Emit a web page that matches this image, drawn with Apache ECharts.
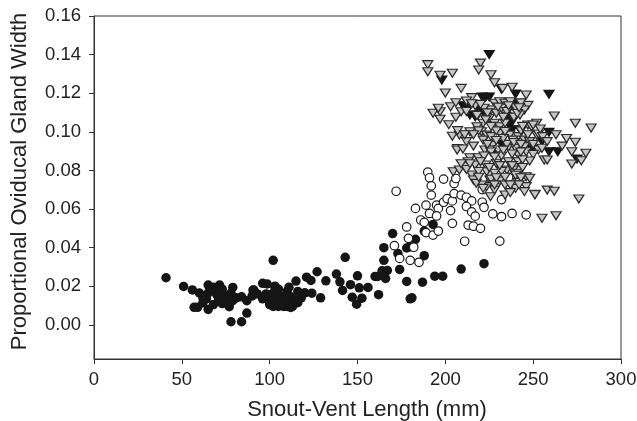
<!DOCTYPE html>
<html>
<head>
<meta charset="utf-8">
<style>html,body{margin:0;padding:0;background:#fff}#kk{width:637px;height:421px}</style>
<script src="https://cdn.jsdelivr.net/npm/echarts@6/dist/echarts.min.js"></script>
</head>
<body>
<div id="kk"></div>
<script>
var yTicks = [0, 0.02, 0.04, 0.06, 0.08, 0.10, 0.12, 0.14, 0.16];
var xTitle = "Snout-Vent Length (mm)";
var yTitle = "Proportional Oviducal Gland Width";

var solidCircles = [
[41,.0244],[51,.0199],[56,.0181],[57,.0091],[59,.0091],[65,.008],[78,.0016],[84,.0016],[87,.0061],[77,.0094],
[65,.0206],[68,.0195],[71.5,.0206],[73,.0185],[79,.0194],[90.5,.018],[96,.0215],[98.5,.0212],[103,.0197],
[60,.0165],[62,.014],[62,.0115],[65,.0165],[64,.0135],[68,.0175],[68,.0105],[70,.0155],[71,.0135],[72,.018],[73,.011],
[74,.0155],[76,.0135],[78,.0165],[79,.0125],[81,.014],[84,.0145],[87,.0125],[90,.015],[91,.018],[93,.016],[96,.0135],[99,.0145],
[100,.0105],[102,.0095],[104,.0115],[105,.0095],[107,.012],[108,.0095],[110,.0095],[111,.012],[112,.009],[113,.0095],
[103,.0135],[106,.015],[109,.0145],[112,.0145],[114,.013],[116,.0115],[118,.014],[102,.0165],[105,.0185],[103,.02],
[110,.0175],[111,.0195],[108,.0135],[98,.016],[116,.0173],[120,.0166],[124,.0164],
[102,.0334],[143,.035],[127,.0275],[121,.0247],[123.5,.023],[115,.0227],[132,.0228],[138,.0263],[150,.0254],[140,.0223],
[146,.0208],[151,.0192],[156,.0194],[141.5,.0178],[129,.014],[147,.0143],[152.5,.0138],[149.5,.0107],[162,.0156],
[160,.0251],[161.5,.0251],[164,.028],[167,.0282],[166,.024],[165,.0334],[165,.04],[170,.0473],[174,.0287],[173,.0369],
[178,.0225],[187,.0221],[188,.0358],[194,.0252],[198.5,.0252],[209,.0289],[222,.0317],[180,.0135],[181,.014],
[178,.0398],[180,.0405],[183,.0443],[193,.052],[188,.0486]
];

var openCircles = [
[172,.0692],[190,.0791],[191,.0762],[192,.072],[192,.0672],[199,.0755],[205,.0732],[206,.0758],[183,.0603],[189,.062],
[195,.062],[196,.0603],[191,.0577],[195,.0564],[199,.0635],[201,.0654],[204,.0642],[205,.068],[209,.0672],[212,.0661],
[215,.0642],[212,.0613],[203,.0592],[215,.0585],[217,.0563],[221,.0635],[222,.0609],[227,.0575],[232,.0561],[238,.0577],
[246,.057],[232,.0649],[204,.0526],[213,.0517],[216,.0511],[220,.05],[211,.0433],[231,.0434],[178,.0507],[186,.0543],
[188,.0531],[189,.0478],[193,.0465],[196,.0486],[179,.0448],[171,.041],[182,.0402],[174,.0344],[180,.0334],[185,.0324],
[236,.0764],[221,.0701],[226,.0745]
];

var blackTriangles = [
[225,.14],[198,.1268],[232,.122],[240,.1196],[259,.1194],[223,.1179],[221,.118],[225,.118],[210,.1135],[214,.1087],
[217,.1078],[218.5,.1087],[222.5,.1113],[236,.1113],[240,.1148],[238,.1052],[235,.1078],[242.5,.101],[232,.0935],[240.5,.0914],
[249,.0923],[227,.0889],[259,.0997],[255,.0949],[249.5,.0909],[259,.0897],[264,.0897],[275,.0859],[213,.1122],[218,.1127],
[221.5,.1104],[236.7,.1035],[238,.101]
];

var grayTriangles = [
[190,.1348],[190,.1311],[197,.1293],[204,.1303],[220,.1356],[219,.132],[226,.1296],[228,.1254],[238,.1231],[246,.1191],
[209,.1225],[200,.1201],[215,.1177],[247,.1137],[193,.1096],[197,.1104],[197,.1065],[196,.1122],[203,.113],[202,.1037],
[206,.1075],[204,.0977],[208,.0983],[207,.1006],[209,.1104],[206,.1151],[212,.116],[212,.0949],[216,.0926],[207,.0914],
[232.6,.1225],[245,.1113],[242.5,.1087],[228,.1148],[231,.1156],[234,.1148],[237,.1156],[226,.1113],[229,.1096],[232,.1122],
[225,.107],[221.5,.1044],[218,.1026],[228,.1044],[231,.1026],[234,.1044],[247,.1035],[252,.1044],[249,.1026],[220.6,.1],
[223.5,.0983],[226,.0975],[231,.0992],[236.7,.0983],[241.5,.0975],[238.5,.0957],[245,.0957],[248,.0949],[252,.0983],[221.5,.0957],
[227,.0931],[236,.0923],[245,.0923],[222.5,.0906],[225.4,.0906],[230,.0906],[253,.0906],[206.7,.0906],[210,.0911],[246,.0897],
[250,.0883],[241.5,.088],[214,.0866],[218.7,.0866],[213,.0845],[217,.0828],[211,.0819],[204.5,.0793],[208,.0802],[223,.0828],
[229,.0837],[236,.0845],[241.5,.0845],[248,.0849],[223.5,.0793],[228,.0785],[235,.0802],[238.6,.0802],[241.5,.0785],[215,.0776],
[216,.075],[225.4,.075],[231,.0745],[246,.0767],[248,.0759],[241.5,.0738],[246,.0716],[238.6,.0707],[234,.0724],[228,.0698],
[223.5,.0716],[220.6,.0724],[221.5,.0707],[225.7,.0664],[234,.0673],[245,.069],[251,.0676],[240,.0707],[217.6,.0733],
[262,.1082],[274,.1044],[283,.102],[269,.0965],[274,.0946],[266.5,.0926],[263,.0985],[253,.0989],[255.4,.0975],[258,.0949],
[250,.1035],[272,.0897],[280,.0889],[277.4,.085],[272,.0833],[256.3,.0854],[258,.0854],[251,.0674],[258,.0698],[262,.0692],
[276,.0652],[255,.0552],[263,.0565],
[218,.1085],[222,.1122],[217,.1135],[235,.1105],[240,.1125],[243,.115],[239,.1075],[233,.1075],[212,.1105],[214,.1],
[211,.0985],[235,.0935],[240,.0915],[233,.0965],[229,.1005],[243,.1005],[226,.0895],[232,.0875],[222,.0875],[240,.0775],
[232,.0795],[226,.0755],[237,.0725],[244,.0855],[219,.0795],
[215,.1145],[220,.1142],[224,.1098],[230,.1128],[236,.1135],[241,.1095],[244,.1028],[226,.1028],[223,.1062],[219,.1005],
[234,.1002],[239,.0945],[243,.0935],[229,.0955],[224,.0935],[233,.0905],[238,.0885],[243,.0895],[228,.087],[220,.0845],
[225,.0815],[231,.0825],[238,.0825],[244,.0815],[212,.0805],[219,.0765],[229,.0762],[234,.0765],[243,.0762],[228,.0725],
[237,.0685],[242,.0725],[214,.0835],[209,.0835],[250,.0935],[255,.0915],[247,.0985],[254,.1015],[242,.1125],[216,.0985]
];

var mychart = echarts.init(document.getElementById("kk"));
var font = "Liberation Sans";
var triangle = "path://M0,0L10,0L5,8Z";

var option = {
    animation: false,
    backgroundColor: "#fff",
    grid: { left: 94, right: 16, top: 16, bottom: 62, outerBoundsMode: "none", show: true, borderColor: "#333", borderWidth: 1 },
    xAxis: {
        type: "value", min: 0, max: 300, interval: 50,
        name: xTitle, nameLocation: "middle", nameGap: 40,
        nameTextStyle: { fontFamily: font, fontSize: 22, color: "#222", padding: [0, 0, 0, 19] },
        splitLine: { show: false },
        axisLine: { onZero: false, lineStyle: { color: "#333" } },
        axisTick: { length: 5, lineStyle: { color: "#333" } },
        axisLabel: { fontFamily: font, fontSize: 18.5, color: "#222", margin: 11, hideOverlap: false }
    },
    yAxis: {
        type: "value", min: -0.0177, max: 0.16,
        name: yTitle, nameLocation: "middle", nameGap: 63,
        nameTextStyle: { fontFamily: font, fontSize: 22, color: "#222", padding: [0, 0, 0, 12] },
        splitLine: { show: false },
        axisLine: { onZero: false, lineStyle: { color: "#333" } },
        axisTick: { show: true, length: 5, customValues: yTicks, lineStyle: { color: "#333" } },
        axisLabel: {
            customValues: yTicks, fontFamily: font, fontSize: 18.5, color: "#222", margin: 13,
            formatter: function (v) { return v.toFixed(2); }
        }
    },
    series: [
        { type: "scatter", data: solidCircles, symbol: "circle", symbolSize: 9.5, silent: true,
          itemStyle: { color: "#151515", opacity: 1 } },
        { type: "scatter", data: openCircles, symbol: "circle", symbolSize: 8.5, silent: true,
          itemStyle: { color: "#fff", borderColor: "#1a1a1a", borderWidth: 1.2, opacity: 1 } },
        { type: "scatter", data: blackTriangles, symbol: triangle, symbolSize: [10, 8], silent: true,
          itemStyle: { color: "#151515", borderColor: "#151515", borderWidth: 1.2, opacity: 1 } },
        { type: "scatter", data: grayTriangles, symbol: triangle, symbolSize: [10, 8], silent: true,
          itemStyle: { color: "#c6c6c6", borderColor: "#2a2a2a", borderWidth: 1.2, opacity: 1 } }
    ]
};
mychart.setOption(option);
</script>
</body>
</html>
